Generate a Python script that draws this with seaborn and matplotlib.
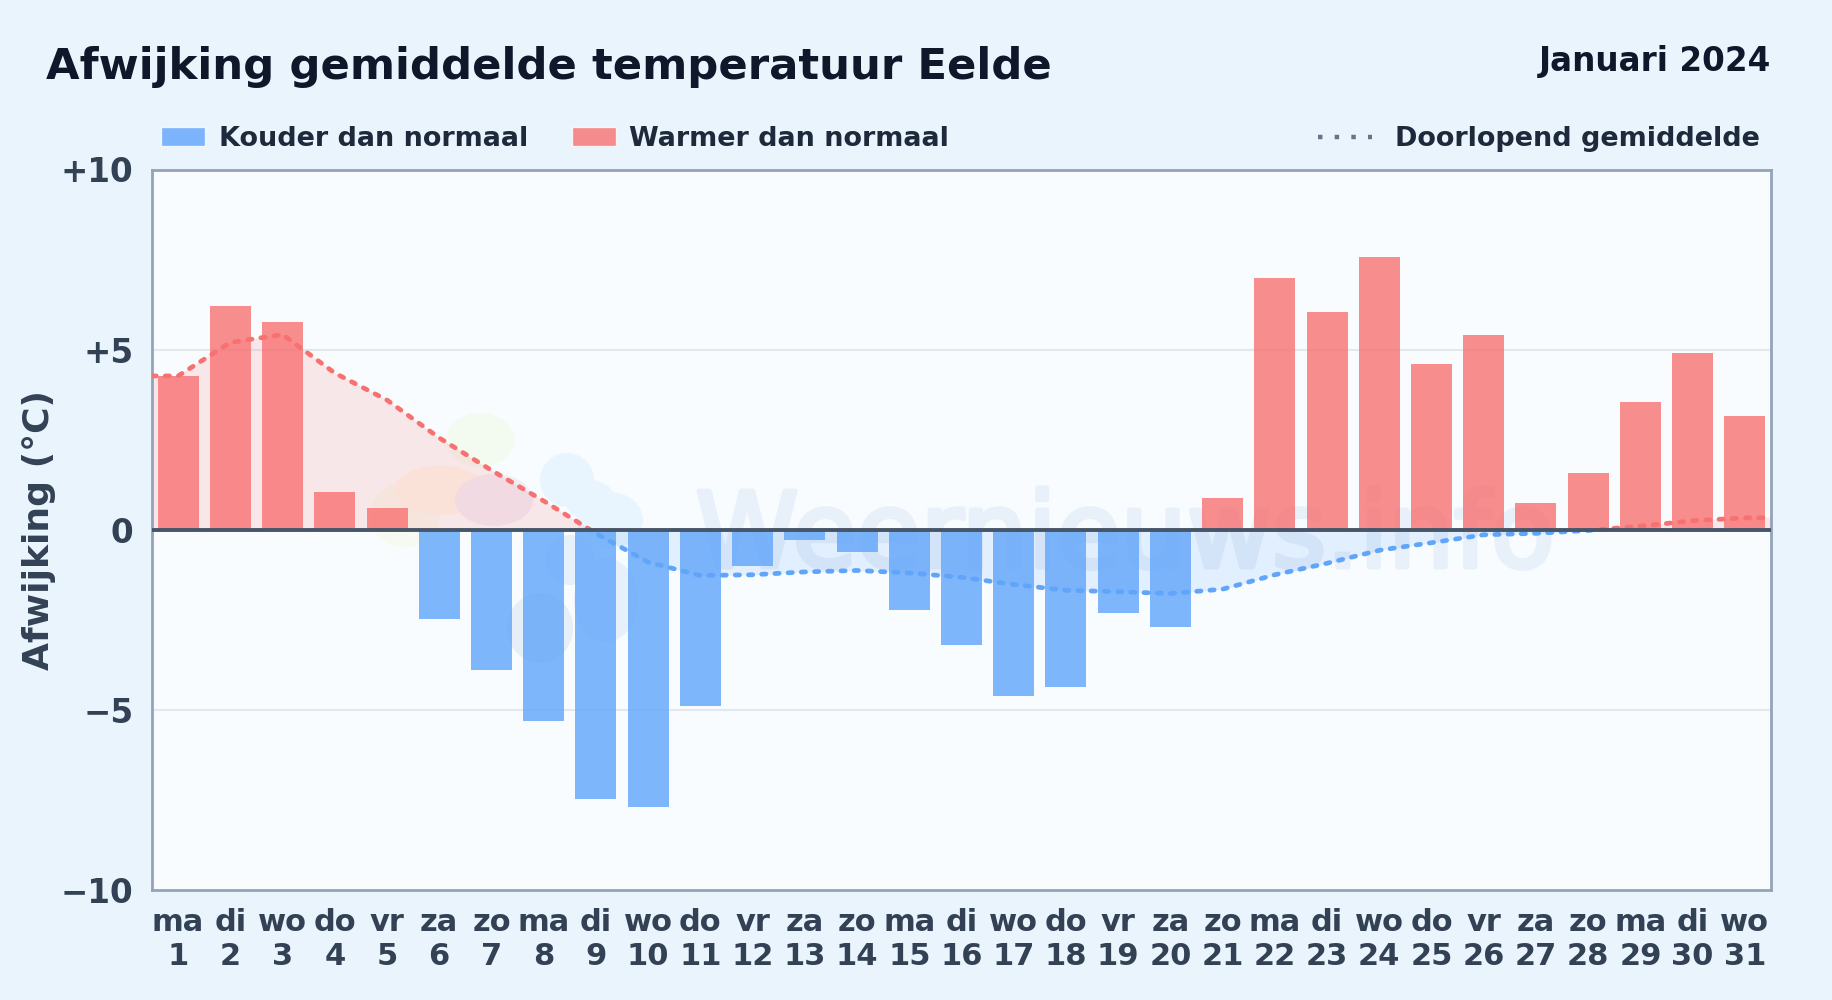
import numpy as np
import pandas as pd
import matplotlib
matplotlib.use("Agg")
import matplotlib.pyplot as plt
import matplotlib.patheffects as pe
from matplotlib.lines import Line2D
from matplotlib.patches import Ellipse, Patch, Rectangle
import seaborn as sns

# values
weekdays = ['ma','di','wo','do','vr','za','zo','ma','di','wo','do','vr','za','zo','ma','di',
            'wo','do','vr','za','zo','ma','di','wo','do','vr','za','zo','ma','di','wo']
days = list(range(1, 32))
deviation = [4.27, 6.2, 5.78, 1.04, 0.6, -2.48, -3.9, -5.3, -7.47, -7.7, -4.88, -1.0, -0.28, -0.63,
             -2.22, -3.2, -4.62, -4.36, -2.32, -2.7, 0.89, 6.98, 6.04, 7.57, 4.59, 5.4, 0.73, 1.57,
             3.55, 4.91, 3.16]
running_mean = [4.27, 5.2, 5.42, 4.35, 3.6, 2.55, 1.65, 0.8, -0.1, -0.9, -1.27, -1.25, -1.17, -1.13,
                -1.2, -1.32, -1.52, -1.68, -1.72, -1.77, -1.65, -1.25, -0.93, -0.57, -0.36, -0.14,
                -0.1, -0.02, 0.1, 0.25, 0.33]
y_ticks = [-10, -5, 0, 5, 10]
y_labels = ['\u221210', '\u22125', '0', '+5', '+10']

LABEL_COLD = 'Kouder dan normaal'
LABEL_WARM = 'Warmer dan normaal'
BLUE = '#60a5fa'
RED = '#f87171'
BG = '#e9f4fd'

sns.set_theme(style='white', font='DejaVu Sans')
plt.rcParams['font.weight'] = 'bold'

df = pd.DataFrame({'dag': days, 'afw': deviation})
df['soort'] = np.where(df['afw'] < 0, LABEL_COLD, LABEL_WARM)

fig = plt.figure(figsize=(18.32, 10), dpi=100, facecolor=BG)
ax = fig.add_axes([152/1832, 1 - 890/1000, (1771-152)/1832, (890-169.5)/1000], facecolor='#f8fcff')

# watermark logo and name, pale and behind everything
for (cx, cy, w, h, col) in [(480, 440, 68, 54, '#f3faef'), (405, 515, 70, 65, '#f6faf0'),
                            (440, 490, 90, 50, '#fbf6ec'), (494, 500, 78, 52, '#f0edf5'),
                            (567, 480, 54, 54, '#e9f5fe'), (610, 520, 66, 56, '#e9f5fe'),
                            (590, 500, 50, 40, '#e9f5fe'), (540, 628, 66, 70, '#e6eef7'),
                            (606, 600, 64, 84, '#e6f0fa'), (570, 560, 50, 50, '#e6f0fa')]:
    ax.add_patch(Ellipse((cx/1832, 1 - cy/1000), w/1832, h/1000, transform=fig.transFigure,
                         facecolor=col, edgecolor='none', zorder=0))
ax.text(1125/1832, 1 - 567/1000, 'Weernieuws.info', transform=fig.transFigure, fontsize=75,
        fontweight='normal', color='#e8f0f9', ha='center', va='baseline', zorder=0.5,
        path_effects=[pe.withStroke(linewidth=3.5, foreground='#e8f0f9')])

sns.barplot(data=df, x='dag', y='afw', hue='soort', hue_order=[LABEL_COLD, LABEL_WARM],
            palette={LABEL_COLD: BLUE, LABEL_WARM: RED}, dodge=False, width=0.785, saturation=1,
            alpha=0.8, linewidth=0, legend=False, ax=ax, zorder=3)

# running mean: flat out to the plot edges, red above zero and blue below
line_x = [-0.5] + [d - 1 for d in days] + [30.5]
line_y = [running_mean[0]] + running_mean + [running_mean[-1]]
ax.fill_between(line_x, line_y, 0, where=np.array(line_y) >= 0, interpolate=True, color=RED, alpha=0.15, lw=0, zorder=2)
ax.fill_between(line_x, line_y, 0, where=np.array(line_y) <= 0, interpolate=True, color=BLUE, alpha=0.15, lw=0, zorder=2)
line_df = pd.DataFrame({'x': line_x, 'y': line_y})
for col, clip_box in [(RED, (-0.5, 0, 31, 10)), (BLUE, (-0.5, -10, 31, 10))]:
    sns.lineplot(data=line_df, x='x', y='y', color=col, lw=3.4, ax=ax, zorder=4, errorbar=None,
                 estimator=None, sort=False)
    ln = ax.lines[-1]
    ln.set_linestyle((0, (0.9, 1.9)))
    ln.set_dash_capstyle('round')
    ln.set_clip_path(Rectangle(clip_box[:2], clip_box[2], clip_box[3], transform=ax.transData))

ax.axhline(0, color='#475569', lw=2.8, zorder=5)
for v in (-5, 5):
    ax.axhline(v, color='#e2e8f0', lw=1.5, zorder=1)

ax.set_xlim(-0.5, 30.5)
ax.set_ylim(-10, 10)
ax.set_yticks(y_ticks, y_labels)
ax.set_xticks(range(31), [f'{w}\n{d}' for w, d in zip(weekdays, days)])
ax.tick_params(axis='y', labelsize=23.5, labelcolor='#334155', length=0, pad=13.5)
ax.tick_params(axis='x', labelsize=22, labelcolor='#334155', length=0, pad=13)
ax.set_xlabel('')
ax.set_ylabel('')
for s in ax.spines.values():
    s.set_color('#94a3b8')
    s.set_linewidth(2)
    s.set_visible(True)

fig.text(39/1832, 1 - 530/1000, 'Afwijking (\u00b0C)', rotation=90, fontsize=26, color='#334155',
         ha='center', va='center')
fig.text(46/1832, 1 - 67/1000, 'Afwijking gemiddelde temperatuur Eelde', fontsize=31.2, color='#0f172a',
         ha='left', va='center')
fig.text(1771/1832, 1 - 62/1000, 'Januari 2024', fontsize=23.5, color='#0f172a', ha='right', va='center')

handles = [Patch(facecolor=BLUE, alpha=0.8, label=LABEL_COLD), Patch(facecolor=RED, alpha=0.8, label=LABEL_WARM)]
fig.legend(handles=handles, loc='center left', bbox_to_anchor=(161/1832, 1 - 139/1000), ncol=2, frameon=False,
           fontsize=19.45, labelcolor='#1e293b', handlelength=1.63, handleheight=0.72, handletextpad=0.5,
           columnspacing=1.62, borderpad=0, borderaxespad=0)
fig.legend(handles=[Line2D([0], [0], color='#64748b', lw=3.2, linestyle=(0, (1, 2.75)), label='Doorlopend gemiddelde')],
           loc='center right', bbox_to_anchor=(1760/1832, 1 - 139/1000), frameon=False, fontsize=19.45,
           labelcolor='#1e293b', handlelength=2.0, handletextpad=0.85, borderpad=0, borderaxespad=0)

fig.savefig('out.png', dpi=100, facecolor=BG)
